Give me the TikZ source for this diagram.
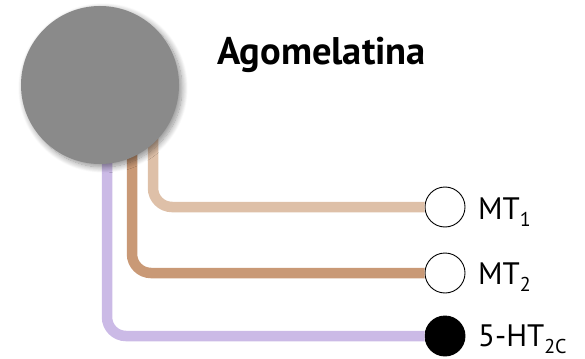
\documentclass[tikz,border=0pt]{standalone}
\usepackage{fontspec}
\setmainfont{PT Sans}
\usetikzlibrary{shadows.blur}
\definecolor{drugGray}{RGB}{138,138,138}
\definecolor{linkViolet}{RGB}{203,186,230}
\definecolor{linkBrown}{RGB}{201,153,118}
\definecolor{linkTan}{RGB}{222,192,168}
\newcommand{\lowsub}[1]{\raisebox{-0.25em}{\fontsize{20}{22}\selectfont #1}}
\tikzset{
  link/.style={line width=10.5pt, rounded corners=19pt},
  receptor/.style={circle, draw=black, line width=0.9pt, minimum size=40pt, inner sep=0pt},
  rlabel/.style={anchor=base west, inner sep=0pt, font=\fontsize{31}{34}\selectfont},
}
\begin{document}
\begin{tikzpicture}[x=1pt,y=-1pt]
\useasboundingbox (0,0) rectangle (585,358);
% receptors on the right
\node[receptor, fill=white] (r1) at (445,207) {};
\node[receptor, fill=white] (r2) at (445,273) {};
\node[receptor, fill=black] (r3) at (445,336) {};
% start points of the links, hidden under the drug disc
\coordinate (s1) at (153,100);
\coordinate (s2) at (132,100);
\coordinate (s3) at (107,100);
% links from the drug to each receptor
\draw[link, linkTan] (s1) |- (r1.west);
\draw[link, linkBrown] (s2) |- (r2.west);
\draw[link, linkViolet] (s3) |- (r3.west);
% the drug
\node[circle, fill=drugGray, minimum size=158pt, inner sep=0pt,
  blur shadow={shadow xshift=3pt, shadow yshift=-3pt, shadow blur steps=12, shadow blur radius=6pt, shadow opacity=45}]
  (drug) at (100,85) {};
\node[anchor=base west, inner sep=0pt, font=\fontsize{38.5}{42}\selectfont\bfseries] (name) at (217,65) {Agomelatina};
% receptor labels
\node[rlabel] (l1) at (478,219) {MT\lowsub{1}};
\node[rlabel] (l2) at (478,284) {MT\lowsub{2}};
\node[rlabel] (l3) at (478,346) {5-HT\lowsub{2C}};
\end{tikzpicture}
\end{document}
